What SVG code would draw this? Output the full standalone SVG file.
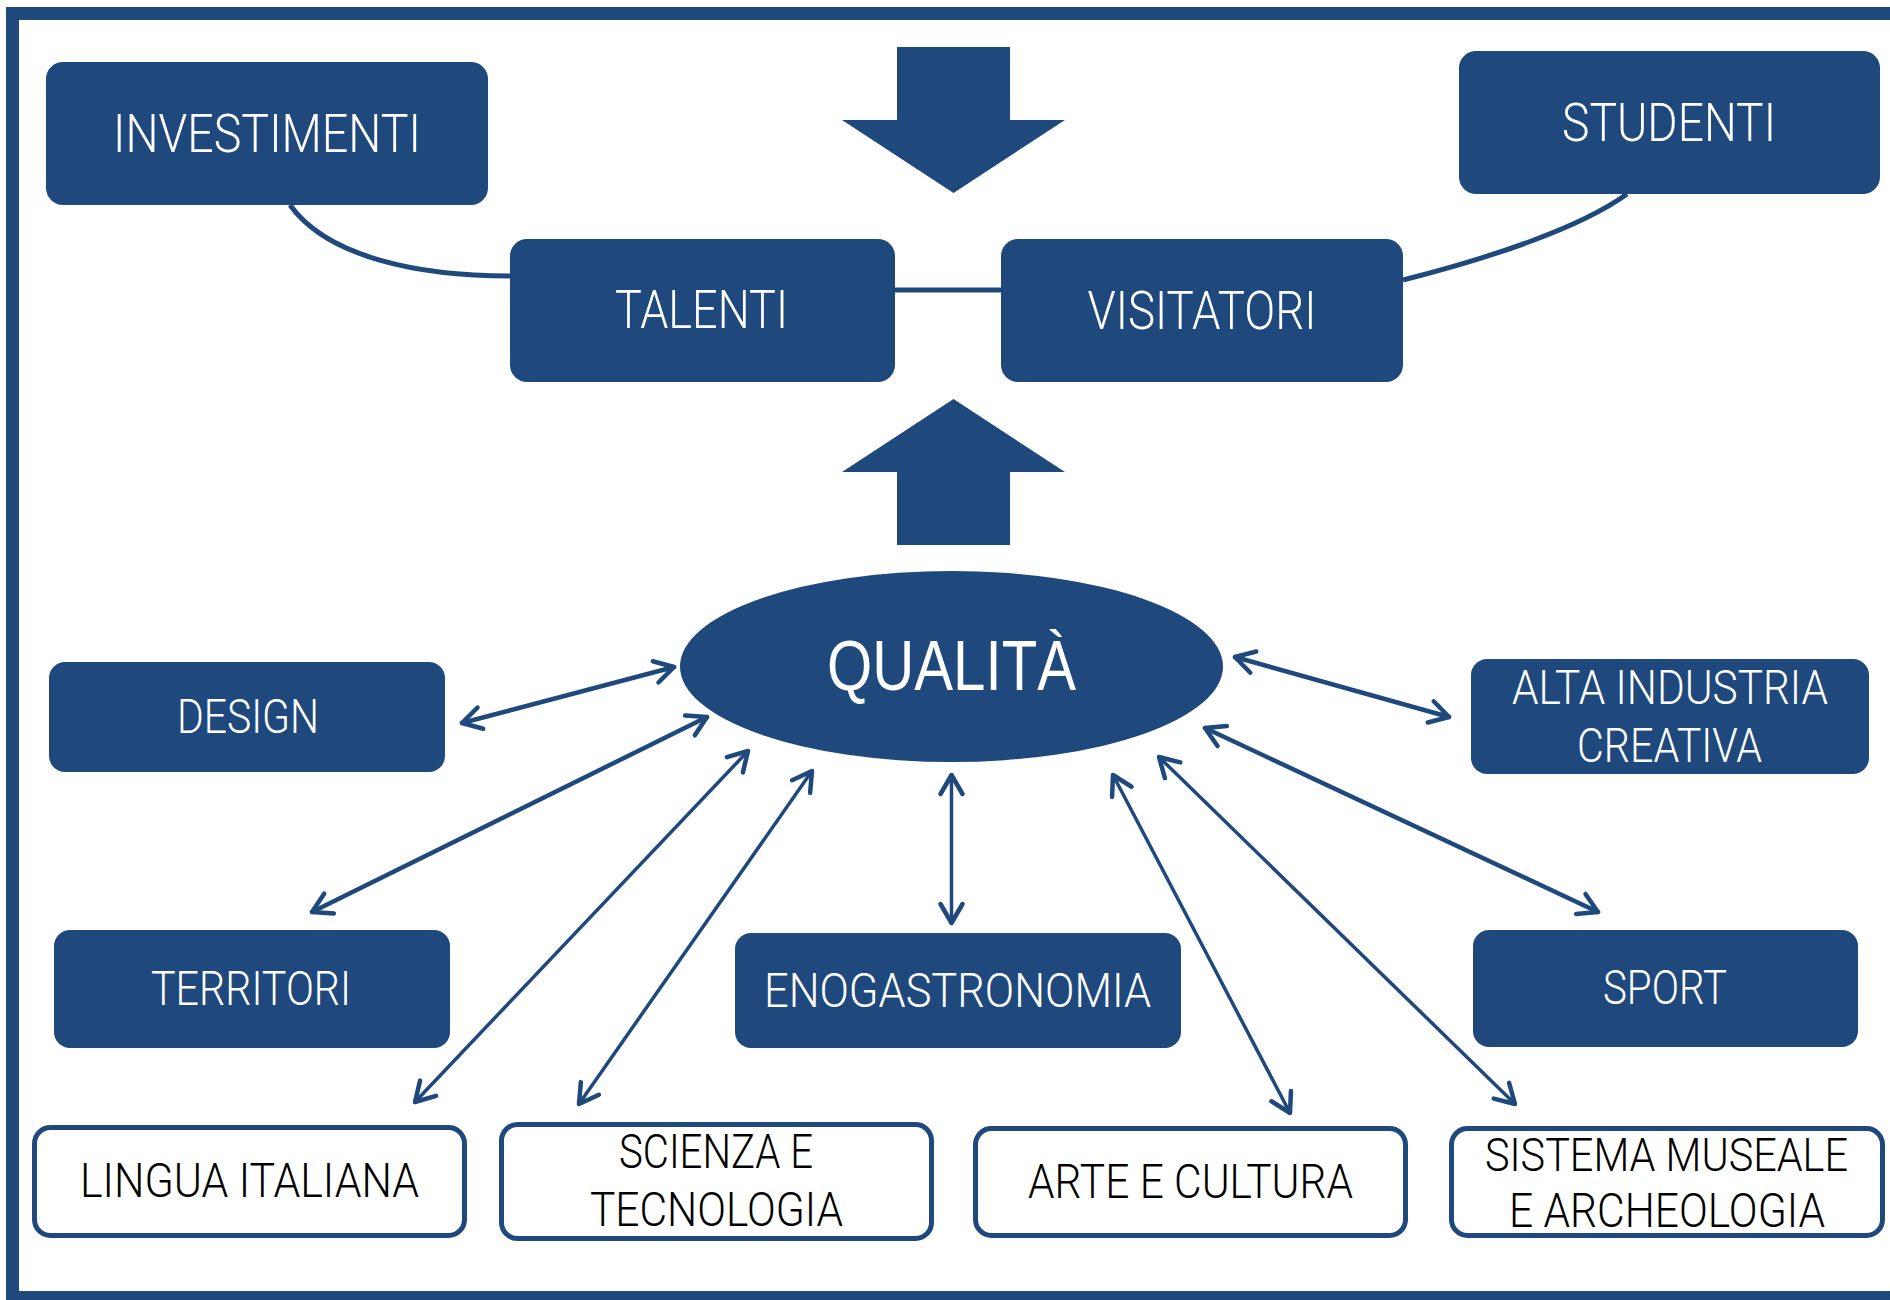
<svg xmlns="http://www.w3.org/2000/svg" width="1890" height="1300" viewBox="0 0 1890 1300">
<defs>
<style>
.box{fill:#1F497D;}
.wbox{fill:#FFFFFF;stroke:#1F497D;stroke-width:5;}
.wt{fill:#FFFFFF;font-family:"Roboto","Liberation Sans",sans-serif;font-weight:300;text-anchor:middle;}
.bt{fill:#000000;font-family:"Roboto","Liberation Sans",sans-serif;font-weight:300;text-anchor:middle;}
.big{fill:#FFFFFF;font-family:"Liberation Sans","Roboto",sans-serif;font-weight:400;text-anchor:middle;}
.conn{fill:none;stroke:#1F497D;}
.dbl{stroke-linecap:round;marker-start:url(#ah);marker-end:url(#ah);}
</style>
<marker id="ah" markerUnits="userSpaceOnUse" viewBox="-28 -16 32 32" refX="0" refY="0" markerWidth="32" markerHeight="32" orient="auto-start-reverse">
<path d="M-19,-11 L0,0 L-19,11" fill="none" stroke="#1F497D" stroke-width="4.5" stroke-linecap="round" stroke-linejoin="round"/>
</marker>
</defs>
<rect x="0" y="0" width="1890" height="1300" fill="#FFFFFF"/>
<rect x="12.5" y="13.5" width="1900" height="1284" fill="#FFFFFF" stroke="#1F497D" stroke-width="13"/>

<g id="connectors">
<path class="conn" stroke-width="5" d="M290,205 C328,258 420,276 510,276"/>
<path class="conn" stroke-width="5" d="M895,290 L1002,290"/>
<path class="conn" stroke-width="5" d="M1403,280 C1490,258 1580,228 1627,194"/>
<line class="conn dbl" stroke-width="4.5" x1="462" y1="723" x2="674" y2="667"/>
<line class="conn dbl" stroke-width="4.5" x1="312" y1="912" x2="707" y2="717"/>
<line class="conn dbl" stroke-width="3.5" x1="415" y1="1102" x2="748" y2="751"/>
<line class="conn dbl" stroke-width="3.5" x1="579" y1="1104" x2="812" y2="771"/>
<line class="conn dbl" stroke-width="3.5" x1="951.5" y1="923" x2="951.5" y2="775"/>
<line class="conn dbl" stroke-width="3.5" x1="1290" y1="1113" x2="1113" y2="775"/>
<line class="conn dbl" stroke-width="3.5" x1="1515" y1="1104" x2="1159" y2="757"/>
<line class="conn dbl" stroke-width="4.5" x1="1598" y1="912" x2="1205" y2="728"/>
<line class="conn dbl" stroke-width="4.5" x1="1449" y1="717" x2="1235" y2="657"/>
</g>

<g id="arrow-down">
<polygon class="box" points="897,47 1010,47 1010,120 1065,120 953.5,193 842,120 897,120"/>
</g>
<g id="arrow-up">
<polygon class="box" points="953.5,399 1065,472 1010,472 1010,545 897,545 897,472 842,472"/>
</g>

<g id="investimenti">
<rect class="box" x="46" y="62" width="442" height="143" rx="17"/>
<text class="wt" x="267" y="152" font-size="54" textLength="308" lengthAdjust="spacingAndGlyphs">INVESTIMENTI</text>
</g>
<g id="studenti">
<rect class="box" x="1459" y="51" width="421" height="143" rx="17"/>
<text class="wt" x="1669" y="141" font-size="54" textLength="214" lengthAdjust="spacingAndGlyphs">STUDENTI</text>
</g>
<g id="talenti">
<rect class="box" x="510" y="239" width="385" height="143" rx="17"/>
<text class="wt" x="701.5" y="328" font-size="54" textLength="173" lengthAdjust="spacingAndGlyphs">TALENTI</text>
</g>
<g id="visitatori">
<rect class="box" x="1001" y="239" width="402" height="143" rx="17"/>
<text class="wt" x="1202" y="329" font-size="54" textLength="229" lengthAdjust="spacingAndGlyphs">VISITATORI</text>
</g>
<g id="qualita">
<ellipse class="box" cx="951.5" cy="666.5" rx="271.5" ry="95.5"/>
<text class="big" x="951.5" y="690" font-size="70" textLength="249" lengthAdjust="spacingAndGlyphs">QUALITÀ</text>
</g>
<g id="design">
<rect class="box" x="49" y="662" width="396" height="110" rx="16"/>
<text class="wt" x="248" y="733" font-size="48" textLength="142" lengthAdjust="spacingAndGlyphs">DESIGN</text>
</g>
<g id="alta-industria">
<rect class="box" x="1471" y="659" width="398" height="115" rx="16"/>
<text class="wt" x="1670" y="704" font-size="48" textLength="316" lengthAdjust="spacingAndGlyphs">ALTA INDUSTRIA</text>
<text class="wt" x="1669.5" y="762" font-size="48" textLength="185" lengthAdjust="spacingAndGlyphs">CREATIVA</text>
</g>
<g id="territori">
<rect class="box" x="54" y="930" width="396" height="118" rx="16"/>
<text class="wt" x="251" y="1005" font-size="48" textLength="200" lengthAdjust="spacingAndGlyphs">TERRITORI</text>
</g>
<g id="enogastronomia">
<rect class="box" x="735" y="933" width="446" height="115" rx="16"/>
<text class="wt" x="957.5" y="1007" font-size="48" textLength="387" lengthAdjust="spacingAndGlyphs">ENOGASTRONOMIA</text>
</g>
<g id="sport">
<rect class="box" x="1473" y="930" width="385" height="117" rx="16"/>
<text class="wt" x="1665" y="1004" font-size="48" textLength="124" lengthAdjust="spacingAndGlyphs">SPORT</text>
</g>
<g id="lingua-italiana">
<rect class="wbox" x="34.5" y="1127.5" width="430" height="108" rx="16"/>
<text class="bt" x="249.5" y="1197" font-size="48" textLength="339" lengthAdjust="spacingAndGlyphs">LINGUA ITALIANA</text>
</g>
<g id="scienza-tecnologia">
<rect class="wbox" x="501.5" y="1124.5" width="430" height="114" rx="16"/>
<text class="bt" x="716" y="1168" font-size="48" textLength="194" lengthAdjust="spacingAndGlyphs">SCIENZA E</text>
<text class="bt" x="716.5" y="1226" font-size="48" textLength="253" lengthAdjust="spacingAndGlyphs">TECNOLOGIA</text>
</g>
<g id="arte-cultura">
<rect class="wbox" x="975.5" y="1128.5" width="430" height="107" rx="16"/>
<text class="bt" x="1190.5" y="1198" font-size="48" textLength="325" lengthAdjust="spacingAndGlyphs">ARTE E CULTURA</text>
</g>
<g id="sistema-museale">
<rect class="wbox" x="1451.5" y="1128.5" width="431" height="107" rx="16"/>
<text class="bt" x="1666.5" y="1171" font-size="46" textLength="363" lengthAdjust="spacingAndGlyphs">SISTEMA MUSEALE</text>
<text class="bt" x="1667" y="1227" font-size="48" textLength="316" lengthAdjust="spacingAndGlyphs">E ARCHEOLOGIA</text>
</g>
</svg>
